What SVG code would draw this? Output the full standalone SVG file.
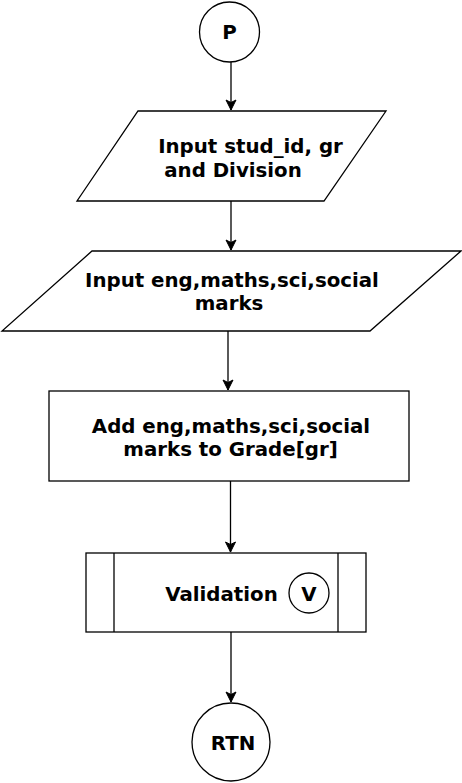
<svg xmlns="http://www.w3.org/2000/svg" width="462" height="783" viewBox="0 0 462 783">
<style>
.s{fill:#fff;stroke:#000;stroke-width:1.3}
.t{font-family:"DejaVu Sans",Verdana,sans-serif;font-weight:bold;font-size:19.8px;fill:#000;text-anchor:middle}
.c{fill:none;stroke:#000;stroke-width:1.3}
</style>
<defs>
<marker id="a" markerWidth="12" markerHeight="12" viewBox="0 0 12 12" refX="11" refY="6" orient="auto" markerUnits="userSpaceOnUse">
<path d="M1,1 L11,6 L1,11 L3.5,6 Z" fill="#000" stroke="#000" stroke-width="1"/>
</marker>
</defs>
<rect width="462" height="783" fill="#fff"/>
<g id="connectors">
<path class="c" d="M231,62 V110" marker-end="url(#a)"/>
<path class="c" d="M231,201 V250" marker-end="url(#a)"/>
<path class="c" d="M228,331 V390" marker-end="url(#a)"/>
<path class="c" d="M230.5,481 V552" marker-end="url(#a)"/>
<path class="c" d="M231,632 V702" marker-end="url(#a)"/>
</g>
<g id="P">
<circle class="s" cx="229.5" cy="32" r="30"/>
<text class="t" x="229.5" y="39">P</text>
</g>
<g id="input1">
<polygon class="s" points="138,111 386,111 324,201 77,201"/>
<text class="t" x="250.5" y="153">Input stud_id, gr</text>
<text class="t" x="233" y="177">and Division</text>
</g>
<g id="input2">
<polygon class="s" points="92,251 461,251 370,331 2,331"/>
<text class="t" x="232" y="287">Input eng,maths,sci,social</text>
<text class="t" x="229" y="310">marks</text>
</g>
<g id="add">
<rect class="s" x="49" y="391" width="360" height="90"/>
<text class="t" x="231" y="433">Add eng,maths,sci,social</text>
<text class="t" x="230.5" y="456">marks to Grade[gr]</text>
</g>
<g id="validation">
<rect class="s" x="86" y="553" width="280" height="79"/>
<line class="c" x1="114" y1="553" x2="114" y2="632"/>
<line class="c" x1="338" y1="553" x2="338" y2="632"/>
<text class="t" x="221.5" y="601">Validation</text>
<circle class="s" cx="309" cy="593" r="20"/>
<text class="t" x="309" y="601">V</text>
</g>
<g id="RTN">
<circle class="s" cx="231" cy="742" r="39"/>
<text class="t" x="233" y="750">RTN</text>
</g>
</svg>
